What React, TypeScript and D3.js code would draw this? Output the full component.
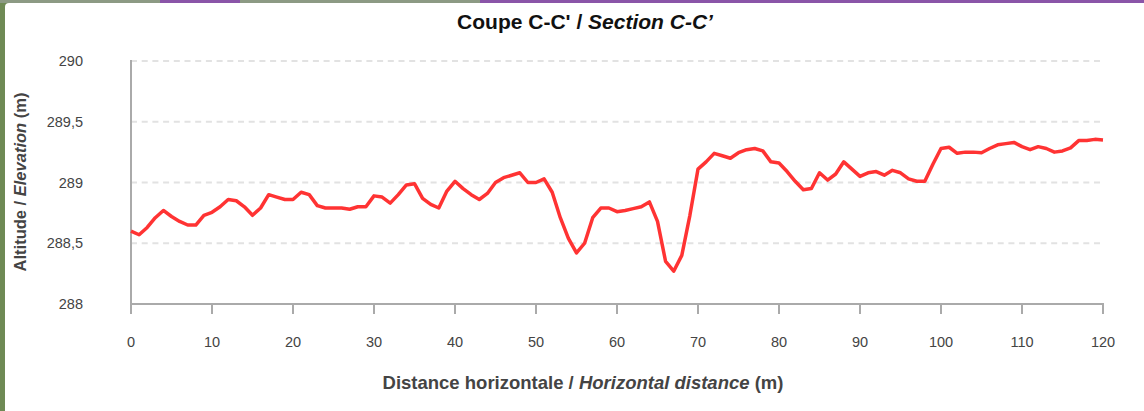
import React from "react";
import * as d3 from "d3";

const distances: number[] = d3.range(0, 121);
const elevations: number[] = [
  288.60, 288.57, 288.63, 288.71, 288.77, 288.72, 288.68, 288.65, 288.65, 288.73,
  288.755, 288.80, 288.86, 288.85, 288.80, 288.73, 288.79, 288.90, 288.88, 288.86,
  288.86, 288.92, 288.90, 288.81, 288.79, 288.79, 288.79, 288.78, 288.80, 288.80,
  288.89, 288.88, 288.83, 288.90, 288.98, 288.99, 288.87, 288.82, 288.79, 288.93,
  289.01, 288.95, 288.90, 288.86, 288.91, 289.00, 289.04, 289.06, 289.08, 289.00,
  289.00, 289.03, 288.92, 288.71, 288.54, 288.42, 288.50, 288.71, 288.79, 288.79,
  288.76, 288.77, 288.785, 288.80, 288.84, 288.68, 288.35, 288.27, 288.40, 288.73,
  289.11, 289.17, 289.24, 289.22, 289.20, 289.245, 289.27, 289.28, 289.26, 289.17,
  289.16, 289.09, 289.01, 288.94, 288.95, 289.08, 289.02, 289.07, 289.17, 289.11,
  289.05, 289.08, 289.09, 289.06, 289.10, 289.08, 289.03, 289.01, 289.01, 289.15,
  289.28, 289.29, 289.24, 289.25, 289.25, 289.245, 289.28, 289.31, 289.32, 289.33,
  289.295, 289.27, 289.295, 289.28, 289.25, 289.26, 289.285, 289.345, 289.345, 289.355,
  289.35,
];
const xTicks: number[] = [0, 10, 20, 30, 40, 50, 60, 70, 80, 90, 100, 110, 120];
const yTicks: number[] = [288, 288.5, 289, 289.5, 290];

const W = 1144;
const H = 411;

export default function App() {
  const x = d3.scaleLinear().domain([0, 120]).range([131, 1103]);
  const y = d3.scaleLinear().domain([288, 290]).range([304, 61]);
  const line = d3
    .line<number>()
    .x((_, i) => x(distances[i]))
    .y((d) => y(d))
    .curve(d3.curveLinear);
  const fmt = (v: number) => String(v).replace(".", ",");
  const font = "'Liberation Sans', Arial, Helvetica, sans-serif";

  return (
    <svg
      width={W}
      height={H}
      style={{ position: "absolute", left: 0, top: 0 }}
      fontFamily={font}
    >
      <rect x={0} y={0} width={W} height={H} fill="#6f8a55" />
      <rect x={0} y={0} width={W} height={3} fill="#8c9a84" />
      <rect x={160} y={0} width={80} height={3} fill="#8a55a8" />
      <rect x={480} y={0} width={W - 480} height={3} fill="#8a55a8" />
      <rect x={5} y={3} width={W} height={H} rx={4} fill="#ffffff" />

      <text x={585} y={29} textAnchor="middle" fontSize={21} fontWeight="bold" fill="#111">
        Coupe C-C' / <tspan fontStyle="italic">Section C-C’</tspan>
      </text>

      {yTicks.filter((t) => t !== 288).map((t) => (
        <line
          key={"g" + t}
          x1={x(0)}
          x2={x(120)}
          y1={y(t)}
          y2={y(t)}
          stroke="#e2e2e2"
          strokeWidth={2}
          strokeDasharray="6,4.7"
        />
      ))}

      <line x1={x(0)} x2={x(0)} y1={y(290) - 1} y2={y(288)} stroke="#aaaaaa" strokeWidth={2} />
      <line x1={x(0) - 1} x2={x(120) + 1} y1={y(288)} y2={y(288)} stroke="#aaaaaa" strokeWidth={2} />
      {xTicks.map((t) => (
        <g key={"x" + t}>
          <line x1={x(t)} x2={x(t)} y1={y(288)} y2={y(288) + 10} stroke="#aaaaaa" strokeWidth={2} />
          <text x={x(t)} y={347} textAnchor="middle" fontSize={14.5} fill="#444">
            {t}
          </text>
        </g>
      ))}
      {yTicks.map((t) => (
        <text key={"y" + t} x={83} y={y(t) + 5} textAnchor="end" fontSize={14.5} fill="#444">
          {fmt(t)}
        </text>
      ))}

      <path d={line(elevations) || ""} fill="none" stroke="#ff3333" strokeWidth={3.5} strokeLinejoin="round" />

      <text x={583} y={389} textAnchor="middle" fontSize={18.5} fontWeight="bold" fill="#444">
        Distance horizontale / <tspan fontStyle="italic">Horizontal distance</tspan> (m)
      </text>
      <text
        transform={`translate(26,${182}) rotate(-90)`}
        textAnchor="middle"
        fontSize={16.5}
        fontWeight="bold"
        fill="#444"
      >
        Altitude / <tspan fontStyle="italic">Elevation</tspan> (m)
      </text>
    </svg>
  );
}
